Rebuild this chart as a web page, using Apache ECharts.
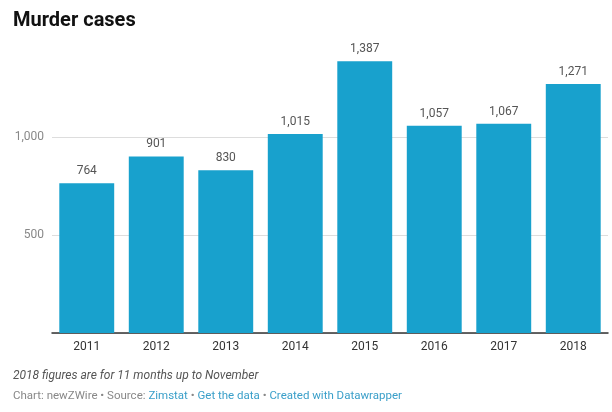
<!DOCTYPE html>
<html><head><meta charset="utf-8">
<script src="https://cdn.jsdelivr.net/npm/echarts@6/dist/echarts.min.js"></script>
<style>html,body{margin:0;padding:0;background:#fff}#c{width:612px;height:412px}</style>
</head><body><div id="c"></div>
<script>
const categories = ['2011','2012','2013','2014','2015','2016','2017','2018'];
const murderCases = [764, 901, 830, 1015, 1387, 1057, 1067, 1271];
const yTicks = [500, 1000];
const fmt = v => v.toLocaleString('en-US');
const chart = echarts.init(document.getElementById('c'));
chart.setOption({
  animation: false,
  textStyle: {fontFamily: 'Roboto'},
  title: [
    {text: 'Murder cases', left: 8, top: 6, textStyle: {fontFamily: 'Roboto', fontWeight: 'bold', fontSize: 20, color: '#111'}},
    {text: '2018 figures are for 11 months up to November', left: 8, top: 365, textStyle: {fontFamily: 'Roboto', fontStyle: 'italic', fontWeight: 'normal', fontSize: 12, color: '#555'}},
    {text: '{g|Chart: newZWire • Source: }{b|Zimstat}{g| • }{b|Get the data}{g| • }{b|Created with Datawrapper}', left: 8, top: 385,
     textStyle: {fontWeight: 'normal', rich: {g: {fontFamily: 'Roboto', fontWeight: 'normal', fontSize: 11.5, color: '#888'}, b: {fontFamily: 'Roboto', fontWeight: 'normal', fontSize: 11.5, color: '#3a9fc9'}}}}
  ],
  grid: {left: 52, right: 4, top: 39, bottom: 79},
  xAxis: {
    type: 'category', data: categories,
    axisLine: {lineStyle: {color: '#333', width: 1.5}},
    axisTick: {show: false},
    axisLabel: {color: '#333', fontSize: 12, margin: 8, fontFamily: 'Roboto'}
  },
  yAxis: {
    type: 'value', min: 0, max: 1500, interval: 500,
    axisLine: {show: false}, axisTick: {show: false},
    axisLabel: {color: '#888', fontSize: 12, margin: 8, fontFamily: 'Roboto',
      formatter: v => yTicks.includes(v) ? fmt(v) : ''},
    splitLine: {lineStyle: {color: ['#ddd','#ddd','#ddd','rgba(0,0,0,0)'], width: 1}}
  },
  series: [{
    type: 'bar', data: murderCases, barCategoryGap: '21%',
    itemStyle: {color: '#18a1cd'},
    label: {show: true, position: 'top', distance: 6, color: '#555', fontSize: 12, fontFamily: 'Roboto', formatter: p => fmt(p.value)}
  }]
});
</script></body></html>
